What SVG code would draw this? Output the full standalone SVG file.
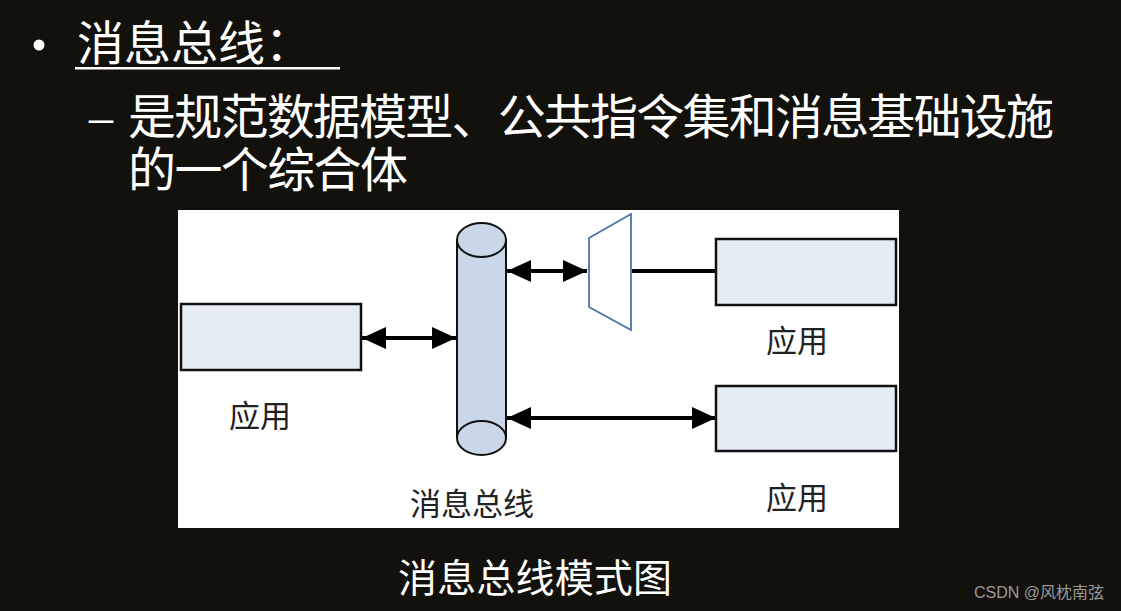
<svg xmlns="http://www.w3.org/2000/svg" width="1121" height="611" viewBox="0 0 1121 611">
<style>
.bg{fill:#12110b}
.w{fill:#ffffff;font-family:"Noto Sans CJK SC","Liberation Serif",serif}
.lbl{fill:#222222;font-family:"Noto Sans CJK SC","Liberation Sans",sans-serif;font-size:31px;text-anchor:middle}
.box{fill:#e5ecf6;stroke:#111;stroke-width:2.5}
.cyl{fill:#c9d7e8;stroke:#111;stroke-width:2}
.conn{stroke:#000;stroke-width:4;fill:none}
</style>
<defs>
<marker id="ah" markerUnits="userSpaceOnUse" markerWidth="26" markerHeight="24" refX="24" refY="12" orient="auto-start-reverse">
<path d="M0,1 L24,12 L0,23 Z" fill="#000"/>
</marker>
</defs>
<rect class="bg" x="0" y="0" width="1121" height="611"/>
<g id="title">
<circle cx="39" cy="45" r="5.5" fill="#fff"/>
<text class="w" x="77" y="60" font-size="47">消息总线：</text>
<rect x="75" y="67" width="265" height="2.5" fill="#fff"/>
</g>
<g id="desc">
<text x="89" y="133" fill="#fff" font-family="Liberation Serif,serif" font-size="48">–</text>
<text class="w" x="128" y="134" font-size="48" textLength="926" lengthAdjust="spacing">是规范数据模型、公共指令集和消息基础设施</text>
<text class="w" x="128" y="187" font-size="48" textLength="280" lengthAdjust="spacing">的一个综合体</text>
</g>
<rect id="panel" x="178" y="210" width="721" height="318" fill="#ffffff"/>
<g id="connectors">
<line class="conn" x1="362" y1="338" x2="456" y2="338" marker-start="url(#ah)" marker-end="url(#ah)"/>
<line class="conn" x1="507" y1="271" x2="587" y2="271" marker-start="url(#ah)" marker-end="url(#ah)"/>
<line class="conn" x1="507" y1="418" x2="716" y2="418" marker-start="url(#ah)" marker-end="url(#ah)"/>
<line class="conn" x1="632" y1="271" x2="716" y2="271"/>
</g>
<g id="bus">
<path class="cyl" d="M457,240 L457,438 A24.5,17 0 0 0 506,438 L506,240 Z"/>
<ellipse class="cyl" cx="481.5" cy="240" rx="24.5" ry="17"/>
<path d="M457,438 A24.5,17 0 0 1 506,438" fill="none" stroke="#111" stroke-width="2"/>
<text class="lbl" x="472" y="515">消息总线</text>
</g>
<g id="adapter">
<polygon points="589,238 631,214 631,330 589,307" fill="#fff" stroke="#4a72a8" stroke-width="1.8"/>
</g>
<g id="app-left">
<rect class="box" x="181" y="304" width="180" height="66"/>
<text class="lbl" x="260" y="427">应用</text>
</g>
<g id="app-top-right">
<rect class="box" x="716" y="239" width="180" height="66"/>
<text class="lbl" x="797" y="352">应用</text>
</g>
<g id="app-bottom-right">
<rect class="box" x="716" y="386" width="180" height="65"/>
<text class="lbl" x="797" y="509">应用</text>
</g>
<g id="caption">
<text class="w" x="398" y="592" font-size="39" textLength="274" lengthAdjust="spacing">消息总线模式图</text>
</g>
<text x="1104" y="598" text-anchor="end" fill="#9a9a9a" font-family="Liberation Sans,Noto Sans CJK SC,sans-serif" font-size="16">CSDN @风枕南弦</text>
</svg>
